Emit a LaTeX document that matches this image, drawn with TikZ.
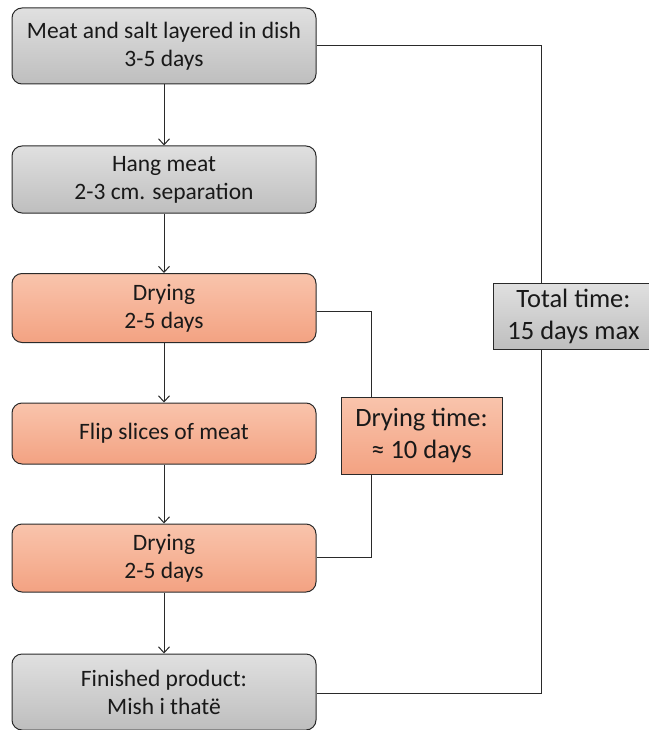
\documentclass[tikz,border=0pt]{standalone}
\usepackage{fontspec}
\setmainfont{Carlito}
\usetikzlibrary{arrows.meta}
\definecolor{edgec}{HTML}{2A2A2A}
\definecolor{greyTop}{HTML}{E0E0E0}
\definecolor{greyBot}{HTML}{BEBEBE}
\definecolor{orTop}{HTML}{F9C4AC}
\definecolor{orBot}{HTML}{F3A282}
\tikzset{
  box/.style={draw=edgec, line width=1pt, rounded corners=10pt, minimum width=304pt, align=center,
    font=\fontsize{23.5}{28}\selectfont, text=black!90, inner sep=0pt},
  greybox/.style={box, top color=greyTop, bottom color=greyBot},
  orbox/.style={box, top color=orTop, bottom color=orBot},
  sidebox/.style={draw=edgec, line width=1pt, align=center, font=\fontsize{26.5}{32}\selectfont, text=black!90, inner sep=0pt},
  conn/.style={draw=edgec, line width=1pt},
  arr/.style={conn, -{Straight Barb[length=6pt,width=11pt,line width=1pt]}}
}
\begin{document}
\begin{tikzpicture}[x=1pt,y=-1pt]
\useasboundingbox (0,0) rectangle (648,730);
\node[greybox, minimum height=76pt] (b1) at (164,46) {Meat and salt layered in dish\\3-5 days};
\node[greybox, minimum height=67pt] (b2) at (164,179.5) {Hang meat\\2-3 cm. separation};
\node[orbox, minimum height=69pt] (b3) at (164,308) {Drying\\2-5 days};
\node[orbox, minimum height=61pt] (b4) at (164,433.5) {Flip slices of meat};
\node[orbox, minimum height=68pt] (b5) at (164,558) {Drying\\2-5 days};
\node[greybox, minimum height=76pt] (b6) at (164,692) {Finished product:\\Mish i thatë};
\node[sidebox, top color=orTop, bottom color=orBot, minimum width=161pt, minimum height=77pt] (dt) at (421.5,435.5) {Drying time:\\≈ 10 days};
\node[sidebox, top color=greyTop, bottom color=greyBot, minimum width=160pt, minimum height=66pt, anchor=west] (tt) at (493,316) {Total time:\\15 days max};
\draw[arr] (b1) -- (b2);
\draw[arr] (b2) -- (b3);
\draw[arr] (b3) -- (b4);
\draw[arr] (b4) -- (b5);
\draw[arr] (b5) -- (b6);
\draw[conn] (b1.east) -- (541,46) -- (541,283);
\draw[conn] (541,349) -- (541,693) -- (b6.east |- 0,693);
\draw[conn] (b3.east |- 0,311) -- (371,311) -- (dt.north -| 371,0);
\draw[conn] (dt.south -| 371,0) -- (371,557) -- (b5.east |- 0,557);
\end{tikzpicture}
\end{document}
